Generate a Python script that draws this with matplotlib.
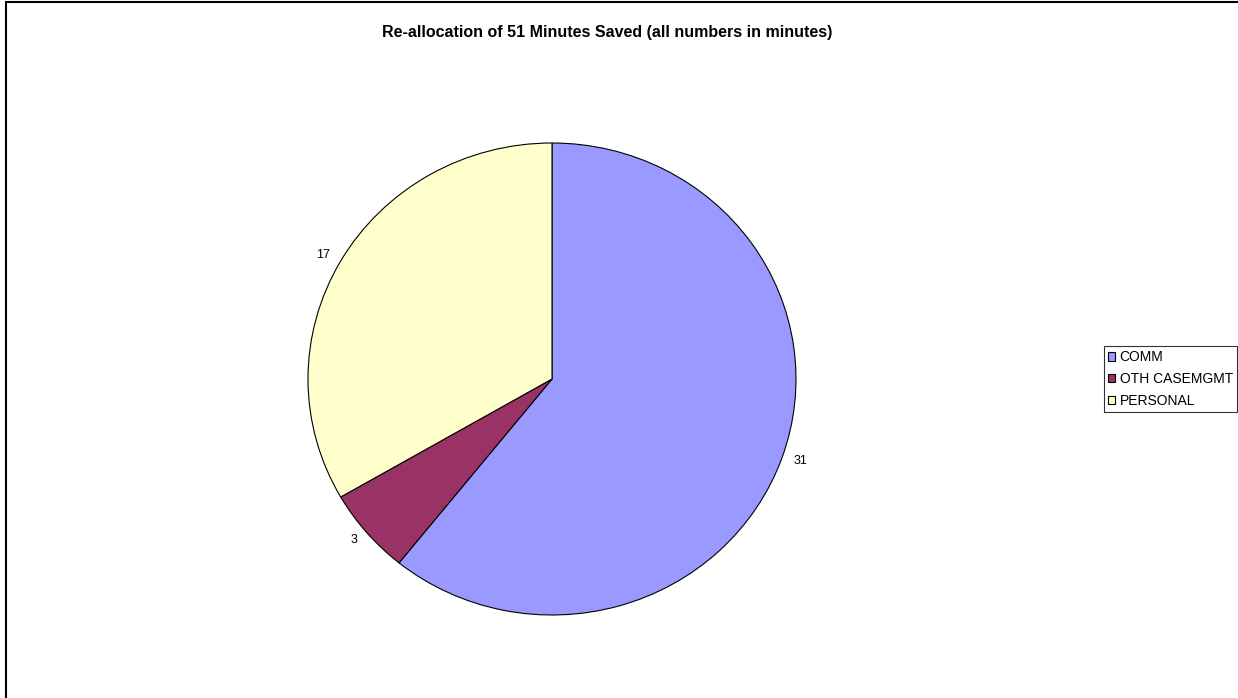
import matplotlib.pyplot as plt
from matplotlib.patches import Rectangle

plt.rcParams['font.family'] = ['Liberation Sans', 'DejaVu Sans']

categories = ["COMM", "OTH CASEMGMT", "PERSONAL"]
minutes = [31, 3, 17]
colors = ["#9999FF", "#993366", "#FFFFCC"]

fig = plt.figure(figsize=(12.38, 6.98), dpi=100)
ax = fig.add_axes([308 / 1238, 83 / 698, 488 / 1238, 472 / 698])

wedges, texts = ax.pie(minutes, labels=[str(m) for m in minutes], colors=colors,
                       startangle=90, counterclock=False, labeldistance=1.05,
                       wedgeprops=dict(edgecolor="black", linewidth=0.8),
                       textprops=dict(fontsize=9))
ax.set_aspect("auto")
ax.set_xlim(-1, 1)
ax.set_ylim(-1, 1)

fig.text(607 / 1238, 1 - 32 / 698, "Re-allocation of 51 Minutes Saved (all numbers in minutes)",
         ha="center", va="center", fontsize=11.5, fontweight="bold")

leg = fig.legend(wedges, categories, loc="center right", bbox_to_anchor=(1237 / 1238, 1 - 379 / 698),
                 fontsize=10, frameon=True, fancybox=False, handlelength=0.55, handleheight=0.55,
                 handletextpad=0.3, borderpad=0.3, borderaxespad=0, labelspacing=0.55)
leg.get_frame().set_edgecolor("black")
leg.get_frame().set_linewidth(0.8)

fig.patches.append(Rectangle((6 / 1238, -0.05), 1.1, 1.05 - 2 / 698, transform=fig.transFigure,
                             fill=False, edgecolor="black", linewidth=1.5))

fig.savefig("out.png", dpi=100)
